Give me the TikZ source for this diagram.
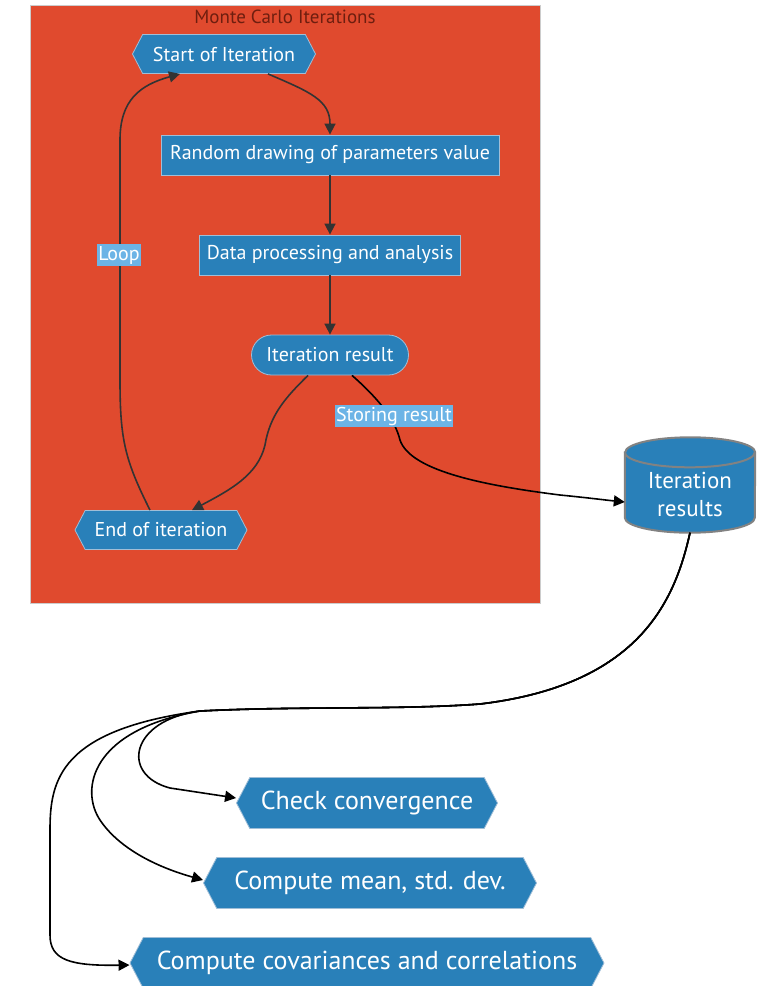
\documentclass[tikz,border=0pt]{standalone}
\usepackage{fontspec}
\setmainfont{PT Sans}
\usetikzlibrary{shapes.symbols,shapes.geometric,arrows.meta}
\definecolor{mcred}{RGB}{224,74,46}
\definecolor{mcblue}{RGB}{41,128,185}
\definecolor{mcborder}{RGB}{160,190,215}
\definecolor{lblbg}{RGB}{108,180,230}
\definecolor{titlecol}{RGB}{110,30,15}
\definecolor{edgegray}{RGB}{51,51,51}
\definecolor{cylborder}{RGB}{130,130,130}
\begin{document}
\begin{tikzpicture}[x=1pt,y=-1pt,
  basefont/.style={font=\fontsize{20}{22}\selectfont},
  bigfont/.style={font=\fontsize{26}{28}\selectfont},
  box/.style={rectangle, fill=mcblue, draw=mcborder, line width=0.8pt, text=white, basefont, inner sep=0pt},
  hexa/.style={signal, signal to=west and east, signal pointer angle=125, fill=mcblue, draw=mcborder, line width=0.8pt, text=white, inner sep=0pt},
  lbl/.style={fill=lblbg, text=white, basefont, inner xsep=1pt, inner ysep=2pt},
  edge/.style={draw=edgegray, line width=1.6pt, -{Triangle[length=11pt,width=11pt]}},
  bedge/.style={draw=black, line width=1.6pt, -{Triangle[length=11pt,width=11pt]}},
  cylstyle/.style={fill=mcblue, draw=cylborder, line width=2pt},
]
\useasboundingbox (0,0) rectangle (756,986);
% cluster
\node[anchor=north west, fill=mcred, draw=gray!40, line width=0.8pt, minimum width=510, minimum height=598, inner sep=0pt] (cluster) at (30,5) {};
\node[text=titlecol, font=\fontsize{19}{21}\selectfont] (title) at (285,17) {Monte Carlo Iterations};
% nodes
\node[hexa, basefont, minimum width=183, minimum height=39] (start) at (224,54) {Start of Iteration};
\node[box, minimum width=338, minimum height=40] (rand) at (330,155) {Random drawing of parameters value};
\node[box, minimum width=261, minimum height=40] (data) at (330,255) {Data processing and analysis};
\node[box, rounded corners=20pt, minimum width=157, minimum height=40] (ir) at (330,355) {Iteration result};
\node[hexa, basefont, minimum width=172, minimum height=39] (end) at (161,530) {End of iteration};
% cylinder (database)
\node[rectangle, minimum width=130, minimum height=95, inner sep=0pt] (cyl) at (690,485) {};
\path[cylstyle] ([yshift=-15pt]cyl.north west) -- ([yshift=15pt]cyl.south west)
  arc[start angle=180, end angle=360, x radius=65pt, y radius=15pt]
  -- ([yshift=-15pt]cyl.north east)
  arc[start angle=0, end angle=180, x radius=65pt, y radius=15pt] -- cycle;
\draw[draw=cylborder, line width=2pt] ([yshift=-15pt]cyl.north west) arc[start angle=180, end angle=360, x radius=65pt, y radius=15pt];
\node[text=white, align=center, font=\fontsize{23}{28}\selectfont] (cyltext) at (690,494) {Iteration\\results};
\node[hexa, bigfont, minimum width=261, minimum height=51] (check) at (367,803) {Check convergence};
\node[hexa, bigfont, minimum width=333, minimum height=51] (mean) at (370,883) {Compute mean, std. dev.};
\node[hexa, bigfont, minimum width=474, minimum height=51] (cov) at (367,963) {Compute covariances and correlations};
% edges
\draw[edge] ([xshift=44]start.south) .. controls (310,92) and (330,100) .. (rand.north);
\draw[edge] (rand.south) -- (data.north);
\draw[edge] (data.south) -- (ir.north);
\draw[edge] ([xshift=-22]ir.south) .. controls (285,398) and (270,415) .. (265,445) .. controls (258,475) and (230,490) .. ([xshift=31]end.north);
\draw[edge] ([xshift=-11]end.north) .. controls (125,460) and (120,440) .. (120,380) -- (120,140) .. controls (120,100) and (140,85) .. ([xshift=-44]start.south);
\node[lbl] (looplbl) at (119,255) {Loop};
\draw[bedge] ([xshift=22]ir.south) .. controls (380,400) and (395,420) .. (400,440) .. controls (410,470) and (480,485) .. (560,495) .. controls (590,498) and (605,500) .. ([yshift=-17]cyl.west);
\node[lbl] (storelbl) at (394,416) {Storing result};
% bottom fan-out
\coordinate (hub) at (200,711);
\draw[bedge] (cyl.south) .. controls (675,600) and (640,685) .. (480,704) .. controls (400,710) and (300,706) .. (hub) .. controls (130,720) and (120,775) .. (170,788) -- ([yshift=5]check.west);
\draw[bedge] (cyl.south) .. controls (675,600) and (640,685) .. (480,704) .. controls (400,710) and (300,706) .. (hub) .. controls (90,730) and (80,790) .. (100,820) .. controls (120,850) and (160,868) .. ([yshift=3]mean.west);
\draw[bedge] (cyl.south) .. controls (675,600) and (640,685) .. (480,704) .. controls (400,710) and (300,706) .. (hub) .. controls (60,730) and (50,780) .. (50,830) -- (50,935) .. controls (50,960) and (70,966) .. ([yshift=-2]cov.west);
\end{tikzpicture}
\end{document}
